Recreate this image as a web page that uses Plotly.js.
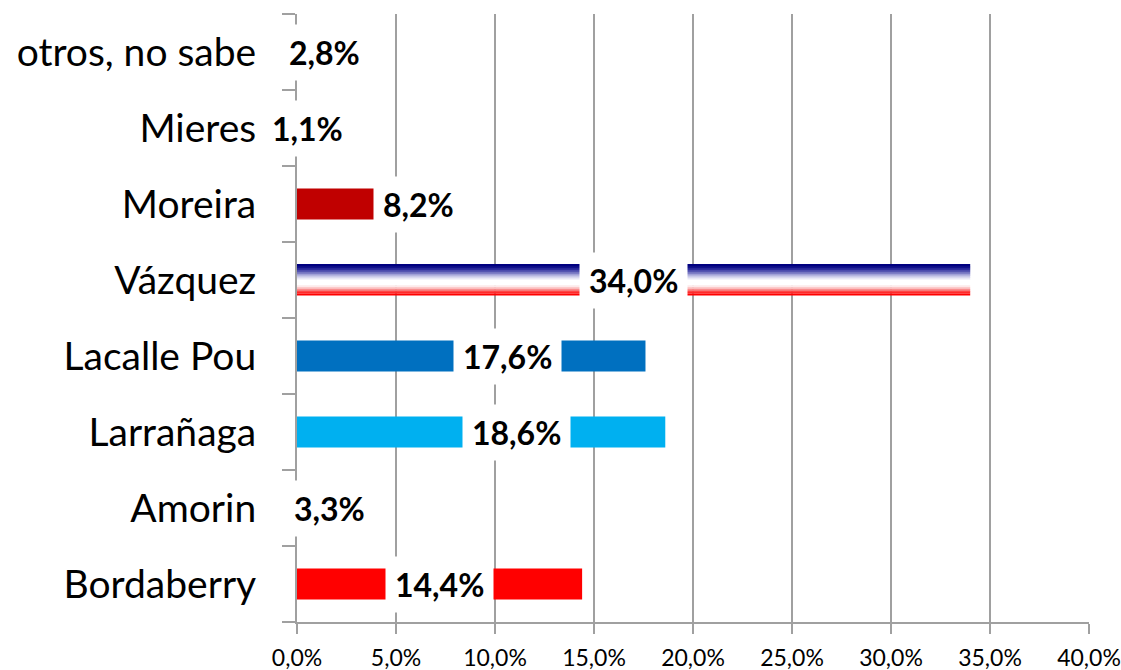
<!DOCTYPE html>
<html>
<head>
<meta charset="utf-8">
<script src="https://cdn.plot.ly/plotly-3.0.1.min.js"></script>
<style>html,body{margin:0;padding:0;background:#fff;}#chart{width:1121px;height:670px;}</style>
</head>
<body>
<div id="chart"></div>
<script>
// ---- data (bottom to top) ----
var categories = ['Bordaberry', 'Amorin', 'Larrañaga', 'Lacalle Pou', 'Vázquez', 'Moreira', 'Mieres', 'otros, no sabe'];
var values = [14.4, 3.3, 18.6, 17.6, 34.0, 8.2, 1.1, 2.8];
var xTickVals = [0, 5, 10, 15, 20, 25, 30, 35, 40];

// ---- styles ----
var barColors = ['#FF0000', '#7030A0', '#00B0F0', '#0070C0', 'rgba(0,0,0,0)', '#C00000', '#7030A0', '#A6A6A6'];
var labelShiftPx = [0, 0, 35, 36, 0, 40, 0, 0];
var gradientCategory = 'Vázquez';
var gradientColors = ['#000080', '#0d0d86', '#26269a', '#4a4aac', '#7474c0', '#a0a0d6', '#c8c8e8', '#e8e8f6',
                      '#ffffff', '#ffffff', '#ffffff', '#fdeaea', '#fbbcbc', '#f87878', '#ff2a2a', '#ff0000'];
var barWidth = 0.41;
var gridColor = '#a0a0a0';
var fontFamily = 'Lato, "Open Sans", sans-serif';

function fmt(v) { return v.toFixed(1).replace('.', ',') + '%'; }

var traces = [];
traces.push({
  type: 'bar', orientation: 'h',
  y: categories, x: values,
  width: barWidth,
  marker: {color: barColors, line: {width: 0}},
  hoverinfo: 'none', showlegend: false
});

// gradient bar built from thin slices
var gi = categories.indexOf(gradientCategory);
var n = gradientColors.length;
var sw = barWidth / n;
for (var i = 0; i < n; i++) {
  var w = (i === n - 1) ? sw : sw * 1.25;
  traces.push({
    type: 'bar', orientation: 'h',
    y: [categories[gi]], x: [values[gi]],
    width: [w],
    offset: [barWidth / 2 - (i + 1) * sw],
    marker: {color: gradientColors[i], line: {width: 0}},
    hoverinfo: 'none', showlegend: false
  });
}

var annotations = categories.map(function (c, k) {
  return {
    x: values[k] / 2, y: c, xref: 'x', yref: 'y',
    text: '<b>' + fmt(values[k]) + '</b>',
    showarrow: false,
    xshift: labelShiftPx[k],
    yshift: 0,
    font: {family: fontFamily, size: 32, color: '#000000'},
    bgcolor: '#ffffff',
    borderpad: 9,
    height: 37,
    valign: 'middle'
  };
});

var layout = {
  width: 1121, height: 670,
  margin: {l: 297, r: 32, t: 14, b: 48, pad: 0},
  paper_bgcolor: '#ffffff', plot_bgcolor: '#ffffff',
  barmode: 'overlay',
  showlegend: false,
  xaxis: {
    range: [0, 40],
    tickmode: 'array',
    tickvals: xTickVals,
    ticktext: xTickVals.map(fmt),
    showgrid: true, gridcolor: gridColor, gridwidth: 2,
    zeroline: false,
    showline: true, linecolor: gridColor, linewidth: 2,
    ticks: 'outside', ticklen: 10, tickwidth: 2, tickcolor: gridColor,
    tickfont: {family: fontFamily, size: 23, color: '#000000'},
    ticklabelstandoff: 4,
    fixedrange: true
  },
  yaxis: {
    type: 'category',
    categoryorder: 'array', categoryarray: categories,
    range: [-0.5, categories.length - 0.5],
    showgrid: false, zeroline: false,
    showline: true, linecolor: gridColor, linewidth: 2,
    ticks: 'outside', tickson: 'boundaries', ticklen: 13, tickwidth: 2, tickcolor: gridColor,
    tickfont: {family: fontFamily, size: 39, color: '#000000'},
    ticklabelstandoff: 31,
    fixedrange: true
  },
  annotations: annotations
};

Plotly.newPlot('chart', traces, layout, {displayModeBar: false, staticPlot: true});
</script>
</body>
</html>
